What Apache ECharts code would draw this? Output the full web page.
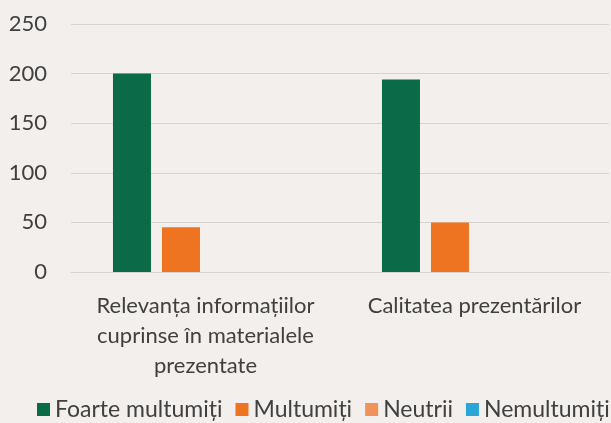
<!DOCTYPE html>
<html>
<head>
<meta charset="utf-8">
<script src="https://cdn.jsdelivr.net/npm/echarts@6/dist/echarts.min.js"></script>
<style>
  html, body { margin: 0; padding: 0; background: #f2efec; }
  #chart { width: 611px; height: 423px; }
</style>
</head>
<body>
<div id="chart"></div>
<script>
// chart data
var categories = ['Relevanța informațiilor\ncuprinse în materialele\nprezentate', 'Calitatea prezentărilor']
var seriesNames = ['Foarte multumiți', 'Multumiți', 'Neutrii', 'Nemultumiți']
var foarteMultumiti = [200, 194]
var multumiti = [45, 50]
var neutrii = [0, 0]
var nemultumiti = [0, 0]
var yTicks = [0, 50, 100, 150, 200, 250]

var colors = ['#0b6a47', '#ee7422', '#f0935a', '#2aa6d6']
var font = 'Lato, "Open Sans", sans-serif'

var chart = echarts.init(document.getElementById('chart'))
var values = [foarteMultumiti, multumiti, neutrii, nemultumiti]

chart.setOption({
  backgroundColor: '#f2efec',
  color: colors,
  animation: false,
  textStyle: { fontFamily: font },
  grid: {
    left: 71,
    right: 2,
    top: 24,
    bottom: 151
  },
  legend: {
    data: seriesNames,
    top: 398,
    left: 37,
    padding: 0,
    icon: 'rect',
    itemWidth: 13,
    itemHeight: 13,
    itemGap: 13,
    textStyle: { color: '#404040', fontSize: 23, fontFamily: font }
  },
  xAxis: {
    type: 'category',
    data: categories,
    axisLine: { show: true, lineStyle: { color: '#d6d3d0' } },
    axisTick: { show: false },
    axisLabel: {
      color: '#404040',
      fontSize: 22,
      lineHeight: 30,
      margin: 19,
      interval: 0
    }
  },
  yAxis: {
    type: 'value',
    min: yTicks[0],
    max: yTicks[yTicks.length - 1],
    interval: 50,
    axisLine: { show: false },
    axisTick: { show: false },
    splitLine: { lineStyle: { color: '#d6d3d0', width: 1 } },
    axisLabel: { color: '#404040', fontSize: 22, margin: 24 }
  },
  series: seriesNames.map(function (name, i) {
    return {
      name: name,
      type: 'bar',
      data: values[i],
      barWidth: 38,
      barGap: '29%'
    }
  })
})
</script>
</body>
</html>
